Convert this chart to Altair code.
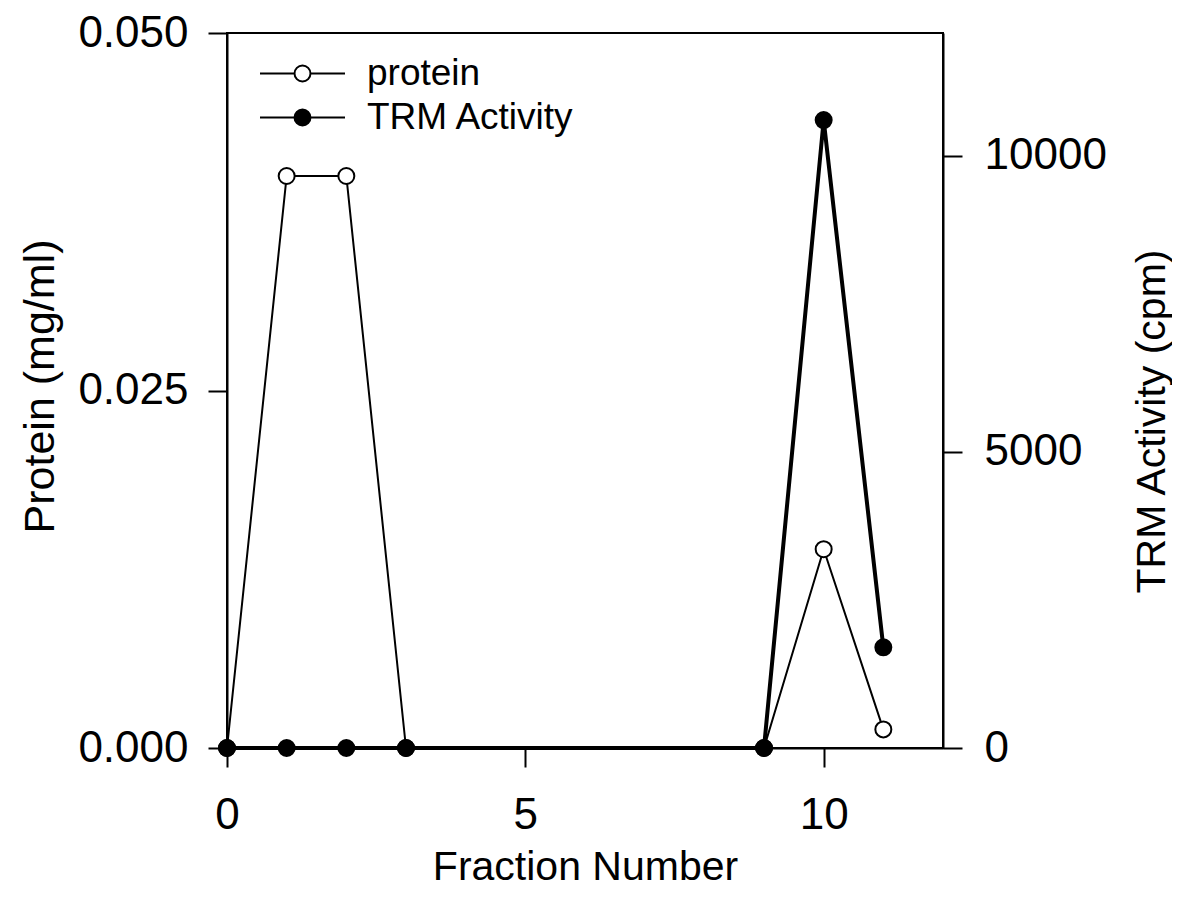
import altair as alt
import pandas as pd

# ---- data ----
fractions = [0, 1, 2, 3, 9, 10, 11]
protein = [0.0, 0.040, 0.040, 0.0, 0.0, 0.0139, 0.0013]
trm_activity = [0, 0, 0, 0, 0, 10600, 1700]
series_names = ["protein", "TRM Activity"]
x_ticks = [0, 5, 10]
left_ticks = [0.0, 0.025, 0.05]
right_ticks = [0, 5000, 10000]

df = pd.DataFrame({
    "fraction": fractions * 2,
    "series": [series_names[0]] * len(fractions) + [series_names[1]] * len(fractions),
    "value": protein + trm_activity,
})

FONT = "Liberation Sans"
# legend symbol: a short line with a circle in the middle
r = 0.94
L = 5
SYMBOL = (f"M-{L},0L-{r},0M{r},0A{r},{r},0,1,1,-{r},0A{r},{r},0,1,1,{r},0"
          f"M{r},0L{L},0")

x_enc = alt.X(
    "fraction:Q",
    scale=alt.Scale(domain=[0, 12], nice=False, zero=False),
    axis=alt.Axis(values=x_ticks, format="d", title="Fraction Number",
                  titleY=131, titleBaseline="alphabetic", labelPadding=26,
                  labelFlush=False),
)

fill_enc = alt.Fill(
    "series:N",
    scale=alt.Scale(domain=series_names, range=["white", "black"]),
    legend=alt.Legend(
        title=None, orient="none", legendX=57, legendY=22, direction="vertical",
        symbolType=SYMBOL, symbolSize=289, symbolStrokeColor="black",
        symbolStrokeWidth=2, labelFont=FONT, labelFontSize=37, labelColor="black",
        labelOffset=46, labelLimit=400, rowPadding=6, padding=0,
    ),
)

base = alt.Chart(df)

prot = base.transform_filter(alt.datum.series == "protein")
y_left = alt.Y(
    "value:Q",
    scale=alt.Scale(domain=[0, 0.05], nice=False),
    axis=alt.Axis(orient="left", values=left_ticks, format=".3f",
                  title="Protein (mg/ml)", titleX=-187, titleY=353, titleAngle=270,
                  titleAlign="center", titleBaseline="middle", labelPadding=20,
                  labelFlush=False, titleFontSize=43),
)
left = alt.layer(
    prot.mark_line(color="black", strokeWidth=2).encode(x=x_enc, y=y_left),
    prot.mark_point(filled=True, shape="circle", size=256, stroke="black",
                    strokeWidth=2, opacity=1).encode(x=x_enc, y=y_left, fill=fill_enc),
)

trm = base.transform_filter(alt.datum.series == "TRM Activity")
y_right = alt.Y(
    "value:Q",
    scale=alt.Scale(domain=[0, 12070], nice=False),
    axis=alt.Axis(orient="right", values=right_ticks, format="d",
                  title="TRM Activity (cpm)", titleX=209, titleY=388, titleAngle=270,
                  titleAlign="center", titleBaseline="middle", labelPadding=22,
                  labelFlush=False),
)
right = alt.layer(
    trm.mark_line(color="black", strokeWidth=4).encode(x=x_enc, y=y_right),
    trm.mark_point(filled=True, shape="circle", size=256, stroke="black",
                   strokeWidth=2, opacity=1).encode(x=x_enc, y=y_right, fill=fill_enc),
)

chart = (
    alt.layer(left, right)
    .resolve_scale(y="independent")
    .properties(
        width=716, height=715,
        autosize=alt.AutoSizeParams(type="none"),
        padding={"left": 219, "top": 25, "right": 229, "bottom": 151},
        background="white",
    )
    .configure_view(stroke="black", strokeWidth=2)
    .configure_axis(
        grid=False, domainColor="black", domainWidth=2, tickColor="black",
        tickWidth=2, tickSize=19, labelFont=FONT, labelFontSize=44,
        labelColor="black", titleFont=FONT, titleFontSize=41,
        titleFontWeight="normal", titleColor="black",
    )
)

chart.save("out.html", embed_options={"renderer": "svg", "actions": False})
